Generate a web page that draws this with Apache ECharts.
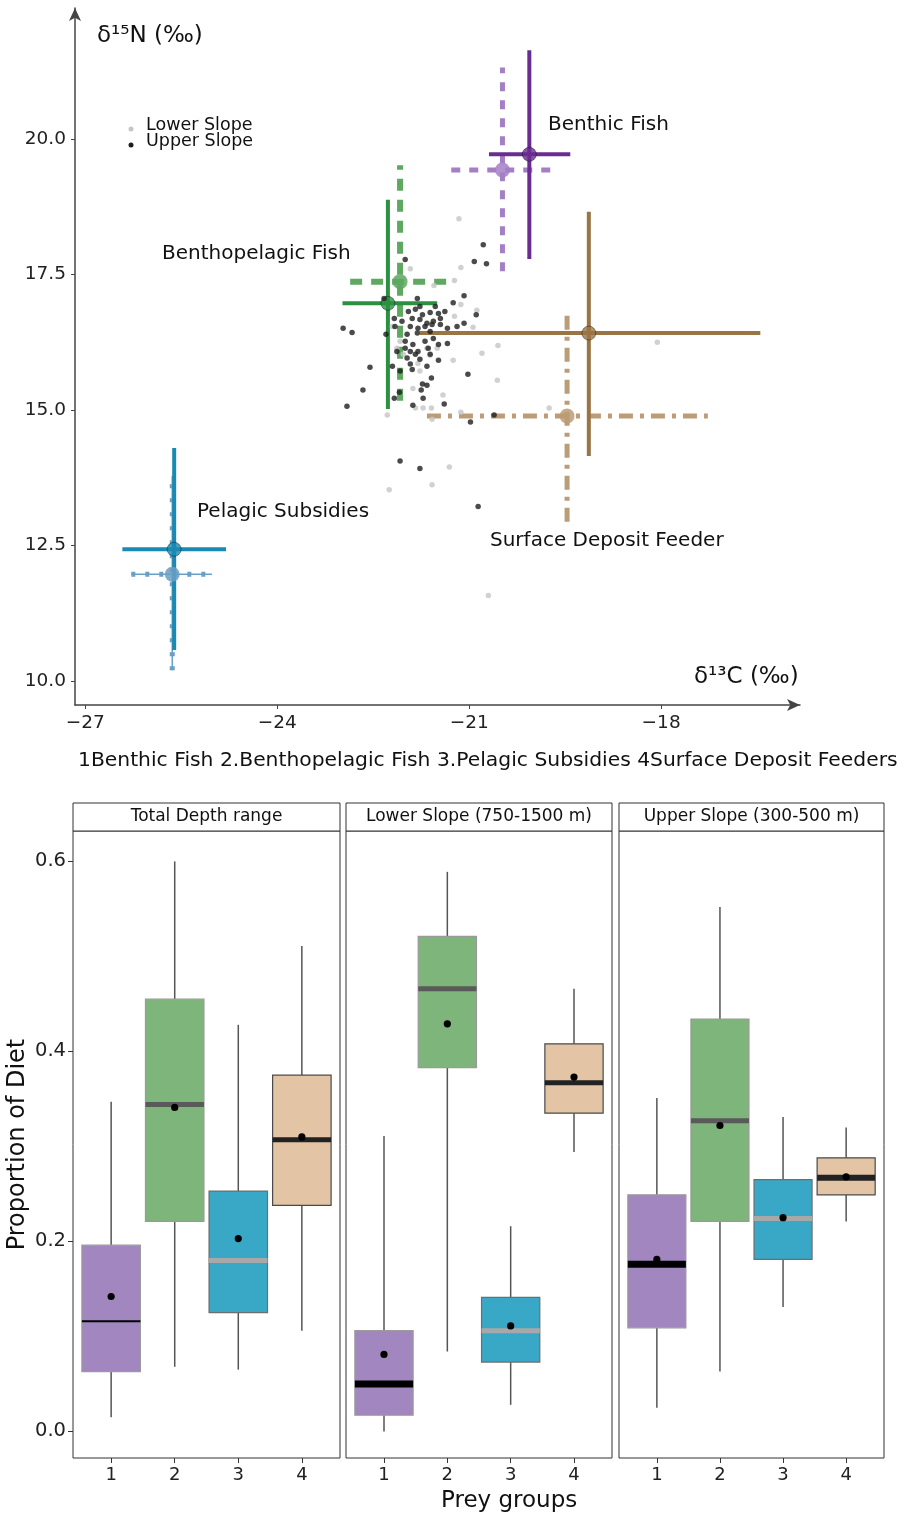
<!DOCTYPE html>
<html>
<head>
<meta charset="utf-8">
<script src="https://cdn.jsdelivr.net/npm/echarts@6/dist/echarts.min.js"></script>
<style>
html, body { margin: 0; padding: 0; background: #fff; }
#chart { width: 907px; height: 1517px; }
</style>
</head>
<body>
<div id="chart"></div>
<script>
var FONT = 'DejaVu Sans';

// ---- top: isotope biplot (d13C, d15N) ----
var lowerSlope = [
    [-21.16, 18.53], [-21.13, 17.63], [-21.92, 17.61], [-21.23, 17.39], [-21.55, 17.30],
    [-21.13, 16.95], [-20.88, 16.84], [-21.23, 16.73], [-20.94, 16.53], [-20.55, 16.19],
    [-20.80, 16.05], [-21.25, 15.92], [-20.56, 15.55], [-21.41, 15.28], [-19.75, 15.04],
    [-21.13, 14.96], [-21.31, 13.95], [-21.58, 13.62], [-22.25, 13.53], [-20.70, 11.58],
    [-18.06, 16.25], [-21.66, 16.14], [-21.50, 16.14], [-21.61, 16.01], [-21.80, 15.86],
    [-21.77, 15.72], [-22.20, 16.54], [-22.08, 16.27], [-22.03, 16.03], [-21.88, 15.40],
    [-21.84, 15.04], [-21.72, 15.04], [-21.59, 15.04], [-22.28, 14.91], [-22.13, 16.14],
    [-21.58, 14.83]
];
var upperSlope = [
    [-20.78, 18.05], [-20.92, 17.74], [-20.73, 17.70], [-22.00, 17.78], [-21.81, 17.06],
    [-21.08, 17.11], [-21.25, 16.98], [-20.89, 16.76], [-22.33, 17.06], [-22.97, 16.51],
    [-22.83, 16.43], [-22.17, 16.69], [-21.08, 16.60], [-21.19, 16.54], [-21.34, 16.51],
    [-21.95, 16.82], [-21.84, 16.86], [-21.73, 16.76], [-21.61, 16.80], [-21.48, 16.78],
    [-21.89, 16.69], [-21.77, 16.67], [-21.66, 16.60], [-21.56, 16.64], [-21.45, 16.69],
    [-21.92, 16.54], [-21.80, 16.51], [-21.69, 16.54], [-21.58, 16.58], [-21.45, 16.58],
    [-21.97, 16.40], [-21.81, 16.42], [-21.61, 16.45], [-22.30, 16.40], [-22.13, 16.08],
    [-22.00, 16.14], [-21.88, 16.21], [-21.92, 16.08], [-21.80, 16.08], [-21.97, 15.96],
    [-21.84, 16.03], [-21.92, 15.85], [-22.08, 15.72], [-21.89, 15.75], [-21.66, 15.81],
    [-21.48, 15.92], [-21.48, 16.21], [-21.34, 16.23], [-21.61, 16.03], [-22.55, 15.79],
    [-22.66, 15.37], [-22.91, 15.07], [-22.20, 15.81], [-21.02, 15.66], [-21.59, 15.59],
    [-21.73, 15.48], [-21.66, 15.46], [-21.75, 15.37], [-22.09, 15.33], [-21.72, 15.22],
    [-22.17, 15.22], [-21.88, 15.09], [-21.39, 15.11], [-20.61, 14.91], [-20.98, 14.78],
    [-22.08, 14.06], [-21.77, 13.92], [-20.86, 13.22], [-21.77, 16.91], [-21.53, 16.91],
    [-21.38, 16.82], [-21.69, 16.27], [-21.56, 16.32], [-22.00, 16.27], [-22.16, 16.54],
    [-22.05, 16.64], [-21.77, 15.94], [-21.64, 16.14]
];

var groups = ['Benthic Fish', 'Benthopelagic Fish', 'Pelagic Subsidies', 'Surface Deposit Feeder'];
// solid crosses: mean and ranges
var solidMean = [[-20.06, 19.72], [-22.27, 16.97], [-25.61, 12.43], [-19.13, 16.42]];
var solidX = [[-20.69, -19.42], [-22.98, -21.50], [-26.42, -24.80], [-21.77, -16.45]];
var solidY = [[17.79, 21.64], [15.02, 18.88], [10.57, 14.30], [14.15, 18.66]];
// dashed crosses
var dashMean = [[-20.48, 19.43], [-22.08, 17.37], [-25.64, 11.97], [-19.47, 14.89]];
var dashX = [[-21.28, -19.66], [-22.86, -21.27], [-26.28, -25.02], [-21.66, -17.27]];
var dashY = [[17.56, 21.32], [15.17, 19.52], [10.20, 13.79], [12.94, 16.78]];

var solidColors = ['#6a2c91', '#2a9140', '#1a8ab2', '#9a7444'];
var dashColors = ['#a47fc6', '#5ea862', '#6a9fc6', '#bc9c76'];
var dashTypes = [[9, 9], [12, 9], [4, 10], [14, 7, 4, 7]];
var dashWidths = [5, 6, 5, 5];

var xTicks = [-27, -24, -21, -18];
var yTicks = [10, 12.5, 15, 17.5, 20];

// ---- bottom: diet proportions, boxes [min, q1, median, q3, max] ----
var panels = ['Total Depth range', 'Lower Slope (750-1500 m)', 'Upper Slope (300-500 m)'];
var preyGroups = [1, 2, 3, 4];
var boxTotal = [[0.015, 0.063, 0.116, 0.196, 0.347], [0.068, 0.221, 0.344, 0.455, 0.600],
                [0.065, 0.125, 0.180, 0.253, 0.428], [0.106, 0.238, 0.307, 0.375, 0.511]];
var meanTotal = [0.142, 0.341, 0.203, 0.310];
var boxLower = [[0.000, 0.017, 0.050, 0.106, 0.311], [0.084, 0.383, 0.466, 0.521, 0.589],
                [0.028, 0.073, 0.106, 0.141, 0.216], [0.294, 0.335, 0.367, 0.408, 0.466]];
var meanLower = [0.081, 0.429, 0.111, 0.373];
var boxUpper = [[0.025, 0.109, 0.176, 0.249, 0.351], [0.063, 0.221, 0.327, 0.434, 0.552],
                [0.131, 0.181, 0.224, 0.265, 0.331], [0.221, 0.249, 0.267, 0.288, 0.320]];
var meanUpper = [0.181, 0.322, 0.225, 0.268];
var dietTicks = [0, 0.2, 0.4, 0.6];

var boxFill = ['#a286bf', '#7db57a', '#38a8c6', '#e3c4a5'];
var boxEdge = ['#9a9a9a', '#9a9a9a', '#6e6e6e', '#4a4a4a'];
var medianColors = [['#000', '#5a5a5a', '#a8a8a8', '#222'],
                    ['#000', '#5a5a5a', '#a8a8a8', '#222'],
                    ['#000', '#5a5a5a', '#a8a8a8', '#222']];
var medianWidths = [[2, 5, 5, 5], [7, 5, 5, 5], [7, 5, 5, 6]];

var chart = echarts.init(document.getElementById('chart'));

function segment(data, color, width, type, z) {
    return {
        type: 'line', xAxisIndex: 0, yAxisIndex: 0, data: data,
        showSymbol: false, silent: true, animation: false, z: z || 2,
        lineStyle: { color: color, width: width, type: type, cap: 'butt' }
    };
}

var series = [];
groups.forEach(function (g, i) {
    var m = dashMean[i];
    if (i === 2) {
        series.push(segment([[dashX[i][0], m[1]], [dashX[i][1], m[1]]], dashColors[i], 1.5, 'solid'));
        series.push(segment([[m[0], dashY[i][0]], [m[0], dashY[i][1]]], dashColors[i], 1.5, 'solid'));
    }
    series.push(segment([[dashX[i][0], m[1]], [dashX[i][1], m[1]]], dashColors[i], dashWidths[i], dashTypes[i]));
    series.push(segment([[m[0], dashY[i][0]], [m[0], dashY[i][1]]], dashColors[i], dashWidths[i], dashTypes[i]));
    var s = solidMean[i];
    series.push(segment([[solidX[i][0], s[1]], [solidX[i][1], s[1]]], solidColors[i], 4, 'solid', 3));
    series.push(segment([[s[0], solidY[i][0]], [s[0], solidY[i][1]]], solidColors[i], 4, 'solid', 3));
});

series.push({
    type: 'scatter', xAxisIndex: 0, yAxisIndex: 0, symbolSize: 15, z: 3, silent: true, animation: false,
    data: dashMean.map(function (m, i) {
        return { value: m, itemStyle: { color: dashColors[i], opacity: 0.85 } };
    })
});
series.push({
    type: 'scatter', xAxisIndex: 0, yAxisIndex: 0, symbolSize: 14, z: 4, silent: true, animation: false,
    data: solidMean.map(function (m, i) {
        return { value: m, itemStyle: { color: solidColors[i], borderColor: 'rgba(0,0,0,0.45)', borderWidth: 1 } };
    })
});
series.push({
    name: 'Lower Slope', type: 'scatter', xAxisIndex: 0, yAxisIndex: 0, symbolSize: 5.5, z: 5,
    silent: true, animation: false, data: lowerSlope, itemStyle: { color: '#c6c6c6' }
});
series.push({
    name: 'Upper Slope', type: 'scatter', xAxisIndex: 0, yAxisIndex: 0, symbolSize: 5.5, z: 6,
    silent: true, animation: false, data: upperSlope, itemStyle: { color: '#1e1e1e' }
});

function boxRenderer(panel) {
    return function (params, api) {
        var j = params.dataIndex;
        var x = api.value(0);
        var p = function (k) { return api.coord([x, api.value(k)]); };
        var lo = p(1), q1 = p(2), md = p(3), q3 = p(4), hi = p(5), mn = p(6);
        var half = api.size([0.46, 0])[0];
        return {
            type: 'group',
            children: [
                { type: 'line', shape: { x1: hi[0], y1: hi[1], x2: q3[0], y2: q3[1] }, style: { stroke: '#555', lineWidth: 1.5 } },
                { type: 'line', shape: { x1: q1[0], y1: q1[1], x2: lo[0], y2: lo[1] }, style: { stroke: '#555', lineWidth: 1.5 } },
                { type: 'rect', shape: { x: md[0] - half, y: q3[1], width: half * 2, height: q1[1] - q3[1] },
                  style: { fill: boxFill[j], stroke: boxEdge[j], lineWidth: 1.2 } },
                { type: 'line', shape: { x1: md[0] - half, y1: md[1], x2: md[0] + half, y2: md[1] },
                  style: { stroke: medianColors[panel][j], lineWidth: medianWidths[panel][j] } },
                { type: 'circle', shape: { cx: mn[0], cy: mn[1], r: 3.6 }, style: { fill: '#000' } }
            ]
        };
    };
}

var boxSets = [boxTotal, boxLower, boxUpper];
var meanSets = [meanTotal, meanLower, meanUpper];
boxSets.forEach(function (boxes, k) {
    series.push({
        type: 'custom', xAxisIndex: k + 1, yAxisIndex: k + 1, silent: true, animation: false,
        renderItem: boxRenderer(k),
        encode: { x: 0, y: 3 },
        data: preyGroups.map(function (g, j) {
            return [g].concat(boxes[j]).concat([meanSets[k][j]]);
        })
    });
});

var panelLeft = [73, 346, 619];
var panelWidth = [267, 266, 265];

var grids = [{ left: 75, top: 8, width: 725, height: 697, outerBoundsMode: 'none', containLabel: false }];
var xAxes = [{
    type: 'value', gridIndex: 0, min: -27.16, max: -15.83,
    splitLine: { show: false },
    axisLine: { onZero: false, symbol: ['none', 'arrow'], symbolSize: [9, 13], lineStyle: { color: '#444', width: 1.5 } },
    axisTick: { customValues: xTicks, length: 4, lineStyle: { color: '#444' } },
    axisLabel: {
        customValues: xTicks, margin: 9, fontSize: 18.5, color: '#222', fontFamily: FONT,
        formatter: function (v) { return String(v).replace('-', '\u2212'); }
    }
}];
var yAxes = [{
    type: 'value', gridIndex: 0, min: 9.557, max: 22.42,
    splitLine: { show: false },
    axisLine: { onZero: false, symbol: ['none', 'arrow'], symbolSize: [9, 13], lineStyle: { color: '#444', width: 1.5 } },
    axisTick: { customValues: yTicks, length: 4, lineStyle: { color: '#444' } },
    axisLabel: {
        customValues: yTicks, margin: 9, fontSize: 18.5, color: '#222', fontFamily: FONT,
        formatter: function (v) { return v.toFixed(1); }
    }
}];

panels.forEach(function (name, k) {
    grids.push({
        left: panelLeft[k], top: 831, width: panelWidth[k], height: 627,
        outerBoundsMode: 'none', containLabel: false,
        show: true, borderColor: '#333', borderWidth: 1, backgroundColor: '#fff'
    });
    xAxes.push({
        type: 'value', gridIndex: k + 1, min: 0.4, max: 4.6, position: 'bottom',
        splitLine: { show: false }, axisLine: { show: false, onZero: false },
        axisTick: { customValues: preyGroups, length: 5, lineStyle: { color: '#333' } },
        axisLabel: { customValues: preyGroups, margin: 8, fontSize: 18, color: '#222', fontFamily: FONT }
    });
    yAxes.push({
        type: 'value', gridIndex: k + 1, min: -0.028, max: 0.632, position: 'left',
        splitLine: { show: false }, axisLine: { show: false, onZero: false },
        name: k === 0 ? 'Proportion of Diet' : '',
        nameLocation: 'middle', nameGap: 43,
        nameTextStyle: { fontSize: 24, color: '#111', fontFamily: FONT },
        axisTick: { show: k === 0, customValues: dietTicks, length: 5, lineStyle: { color: '#333' } },
        axisLabel: {
            show: k === 0, customValues: dietTicks, margin: 7, fontSize: 19.5, color: '#222', fontFamily: FONT,
            formatter: function (v) { return v.toFixed(1); }
        }
    });
});

var graphics = [
    { type: 'text', left: 97, top: 25, style: { text: '\u03b4\u00b9\u2075N (\u2030)', fontSize: 23, fill: '#111', fontFamily: FONT } },
    { type: 'text', left: 694, top: 666, style: { text: '\u03b4\u00b9\u00b3C (\u2030)', fontSize: 23, fill: '#111', fontFamily: FONT } },
    { type: 'circle', shape: { cx: 131, cy: 129, r: 2.5 }, style: { fill: '#c6c6c6' } },
    { type: 'circle', shape: { cx: 131, cy: 145, r: 2.5 }, style: { fill: '#1e1e1e' } },
    { type: 'text', left: 146, top: 116, style: { text: 'Lower Slope', fontSize: 17.5, fill: '#111', fontFamily: FONT } },
    { type: 'text', left: 146, top: 132, style: { text: 'Upper Slope', fontSize: 17.5, fill: '#111', fontFamily: FONT } },
    { type: 'text', left: 548, top: 115, style: { text: groups[0], fontSize: 20, fill: '#111', fontFamily: FONT } },
    { type: 'text', left: 162, top: 244, style: { text: groups[1], fontSize: 20, fill: '#111', fontFamily: FONT } },
    { type: 'text', left: 197, top: 502, style: { text: groups[2], fontSize: 20, fill: '#111', fontFamily: FONT } },
    { type: 'text', left: 490, top: 531, style: { text: groups[3], fontSize: 20, fill: '#111', fontFamily: FONT } },
    { type: 'text', left: 78, top: 751, style: { text: '1Benthic Fish 2.Benthopelagic Fish 3.Pelagic Subsidies 4Surface Deposit Feeders', fontSize: 20.3, fill: '#111', fontFamily: FONT } },
    { type: 'text', left: 441, top: 1490, style: { text: 'Prey groups', fontSize: 23, fill: '#111', fontFamily: FONT } }
];
panels.forEach(function (name, k) {
    graphics.push({
        type: 'rect', shape: { x: panelLeft[k], y: 803, width: panelWidth[k], height: 28 },
        style: { fill: '#fff', stroke: '#333', lineWidth: 1 }
    });
    graphics.push({
        type: 'text', x: panelLeft[k] + panelWidth[k] / 2, y: 817,
        style: { text: name, fontSize: 17, fill: '#111', fontFamily: FONT, align: 'center', verticalAlign: 'middle' }
    });
});

var option = {
    backgroundColor: '#fff',
    animation: false,
    grid: grids,
    xAxis: xAxes,
    yAxis: yAxes,
    series: series,
    graphic: graphics
};
option && chart.setOption(option);
</script>
</body>
</html>
